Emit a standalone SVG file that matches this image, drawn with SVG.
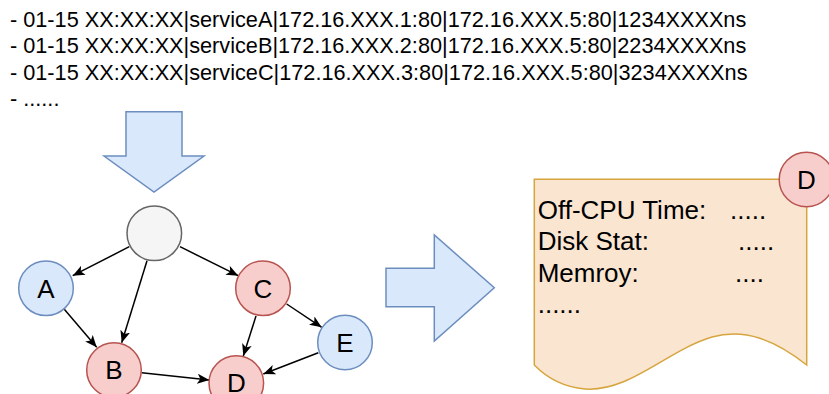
<svg xmlns="http://www.w3.org/2000/svg" width="829" height="394" viewBox="0 0 829 394">
<defs>
<marker id="arr" viewBox="0 0 12 10" refX="12" refY="5" markerWidth="12" markerHeight="10" markerUnits="userSpaceOnUse" orient="auto">
<path d="M0,0 L12,5 L0,10 L3,5 Z" fill="#000"/>
</marker>
</defs>
<style>
text{font-family:"Liberation Sans",Arial,Helvetica,sans-serif;fill:#000}
.log{font-size:21.7px}
.lbl{font-size:26px;text-anchor:middle}
.note{font-size:26px}
.blue{fill:#dae8fc;stroke:#6c8ebf;stroke-width:1.5}
.red{fill:#f8cecc;stroke:#b85450;stroke-width:1.5}
.gray{fill:#f5f5f5;stroke:#666666;stroke-width:1.5}
.edge{stroke:#000;stroke-width:1.5;fill:none;marker-end:url(#arr)}
</style>
<rect width="829" height="394" fill="#fff"/>
<g id="log">
<text class="log" x="10" y="26.5">- 01-15 XX:XX:XX|serviceA|172.16.XXX.1:80|172.16.XXX.5:80|1234XXXXns</text>
<text class="log" x="10" y="53">- 01-15 XX:XX:XX|serviceB|172.16.XXX.2:80|172.16.XXX.5:80|2234XXXXns</text>
<text class="log" x="10" y="79.5">- 01-15 XX:XX:XX|serviceC|172.16.XXX.3:80|172.16.XXX.5:80|3234XXXXns</text>
<text class="log" x="10" y="106">- ......</text>
</g>
<g id="down-arrow">
<path class="blue" d="M126,111.7 H182 V156 H204 L154,192 L104,156 H126 Z"/>
</g>
<g id="right-arrow">
<path class="blue" d="M386,268.3 H434.3 V235 L494.3,287.7 L434.3,341 V306.7 H386 Z"/>
</g>
<g id="connectors">
<line class="edge" x1="129.3" y1="246.7" x2="72.7" y2="275.7"/>
<line class="edge" x1="147" y1="260.7" x2="121.7" y2="342.7"/>
<line class="edge" x1="180" y1="246.7" x2="238.3" y2="275.7"/>
<line class="edge" x1="64.3" y1="309.3" x2="96.7" y2="347.3"/>
<line class="edge" x1="256" y1="316" x2="243.3" y2="356"/>
<line class="edge" x1="286.7" y1="304" x2="321.7" y2="327.3"/>
<line class="edge" x1="318.3" y1="352.7" x2="263.3" y2="374"/>
<line class="edge" x1="141.7" y1="372.7" x2="209.3" y2="380"/>
</g>
<g id="root"><circle class="gray" cx="154.3" cy="233.3" r="27.3"/></g>
<g id="node-A"><circle class="blue" cx="46" cy="288.3" r="27.3"/><text class="lbl" x="46" y="297.6">A</text></g>
<g id="node-B"><circle class="red" cx="114" cy="370" r="27.3"/><text class="lbl" x="114" y="379.3">B</text></g>
<g id="node-C"><circle class="red" cx="263" cy="288.3" r="27.3"/><text class="lbl" x="263" y="297.6">C</text></g>
<g id="node-E"><circle class="blue" cx="345" cy="342.5" r="27.3"/><text class="lbl" x="345" y="351.8">E</text></g>
<g id="node-D"><circle class="red" cx="236.3" cy="383" r="27.3"/><text class="lbl" x="236.3" y="392.3">D</text></g>
<g id="note">
<path d="M534.3,179.3 H806.7 V365 C775,340 745,328 712,337 C668,350 630,392 585,389 C562,387 545,376 534.3,365 Z" fill="#fae5d0" stroke="#d6a53e" stroke-width="1.5"/>
<text class="note" x="537.7" y="218.5">Off-CPU Time:<tspan x="730">.....</tspan></text>
<text class="note" x="537.7" y="250">Disk Stat:<tspan x="738">.....</tspan></text>
<text class="note" x="537.7" y="281.5">Memroy:<tspan x="735">....</tspan></text>
<text class="note" x="537.7" y="313">......</text>
</g>
<g id="note-badge"><circle class="red" cx="806.5" cy="179.5" r="27.3"/><text class="lbl" x="806.5" y="188.8">D</text></g>
</svg>
